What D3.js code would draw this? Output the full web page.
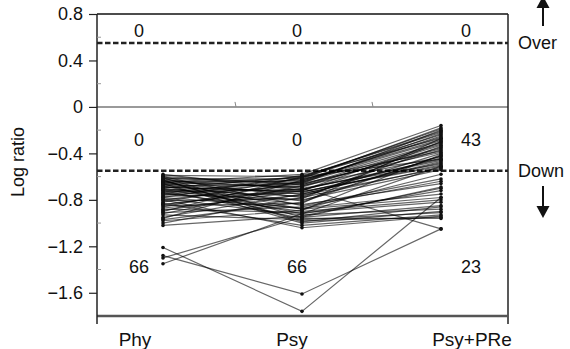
<!DOCTYPE html>
<html>
<head>
<meta charset="utf-8">
<script src="https://cdn.jsdelivr.net/npm/d3@7"></script>
<style>
  body { margin: 0; background: #fff; }
  text { font-family: "Liberation Sans", Arial, sans-serif; fill: #111; }
</style>
</head>
<body>
<div id="chart"></div>
<script>
// conditions on the x axis
const categories = ['Phy', 'Psy', 'Psy+PRe'];

// log ratio of each gene (66 genes) under the three conditions
const phy = [
  -0.58, -0.59, -0.60, -0.60, -0.61, -0.62, -0.62, -0.63, -0.63, -0.64,
  -0.64, -0.65, -0.65, -0.66, -0.66, -0.67, -0.67, -0.68, -0.68, -0.69,
  -0.70, -0.70, -0.71, -0.72, -0.72, -0.73, -0.74, -0.74, -0.75, -0.76,
  -0.77, -0.78, -0.78, -0.79, -0.80, -0.81, -0.82, -0.83, -0.84, -0.85,
  -0.86, -0.87, -0.88, -0.89, -0.90, -0.91, -0.92, -0.93, -0.95, -0.96,
  -0.97, -0.98, -1.00, -1.02, -0.61, -0.63, -0.66, -0.69, -0.71, -0.75,
  -0.80, -0.84, -1.21, -1.28, -1.30, -1.35
];
const psy = [
  -0.72, -0.60, -0.85, -0.66, -0.95, -0.62, -0.78, -0.70, -0.98, -0.64,
  -0.88, -0.69, -0.58, -0.75, -1.00, -0.81, -0.63, -0.92, -0.67, -0.73,
  -0.60, -0.84, -0.77, -0.65, -0.96, -0.71, -0.90, -0.62, -0.80, -0.68,
  -0.74, -0.59, -0.87, -0.93, -0.66, -0.79, -0.61, -1.02, -0.70, -0.83,
  -0.64, -0.76, -0.91, -0.72, -0.60, -0.86, -0.68, -0.97, -0.75, -0.63,
  -0.82, -0.89, -0.78, -0.94, -0.67, -0.99, -0.61, -0.73, -0.88, -0.65,
  -1.04, -0.71, -1.76, -1.61, -0.95, -0.92
];
const psyPRe = [
  -0.30, -0.45, -0.62, -0.20, -0.85, -0.38, -0.52, -1.05, -0.95, -0.25,
  -0.58, -0.33, -0.16, -0.48, -0.90, -0.42, -0.28, -0.72, -0.36, -0.50,
  -0.22, -0.66, -0.40, -0.31, -0.96, -0.46, -0.80, -0.18, -0.54, -0.35,
  -0.44, -0.27, -0.75, -0.88, -0.39, -0.30, -0.24, -0.93, -0.49, -0.27,
  -0.29, -0.53, -0.82, -0.37, -0.21, -0.64, -0.43, -0.91, -0.47, -0.26,
  -0.42, -0.41, -0.34, -0.70, -0.32, -0.86, -0.19, -0.51, -0.78, -0.23,
  -0.94, -0.45, -0.78, -1.05, -0.69, -0.51
];

// gene counts per region (over / between / down)
const overCounts = [0, 0, 0];
const midCounts = [0, 0, 43];
const downCounts = [66, 66, 23];

const yTicks = [0.8, 0.4, 0, -0.4, -0.8, -1.2, -1.6];
const yMinorTicks = [0.6, 0.2, -0.2, -0.6, -1.0, -1.4];
const threshold = 0.55;

const width = 570, height = 349;
const margin = { left: 97, right: 508, top: 14, bottom: 316 };

const svg = d3.select('#chart').append('svg')
  .attr('width', width)
  .attr('height', height);

const x = d3.scalePoint().domain(categories).range([163, 441]);
const y = d3.scaleLinear().domain([-1.8, 0.8]).range([margin.bottom, margin.top]);

const genes = phy.map((v, i) => [phy[i], psy[i], psyPRe[i]]);

// zero line
svg.append('line')
  .attr('x1', margin.left).attr('x2', margin.right)
  .attr('y1', y(0)).attr('y2', y(0))
  .attr('stroke', '#9a9a9a').attr('stroke-width', 2);
[235, 372].forEach(px => {
  svg.append('line')
    .attr('x1', px).attr('x2', px + 1)
    .attr('y1', y(0) - 5).attr('y2', y(0))
    .attr('stroke', '#888').attr('stroke-width', 1);
});

// threshold lines
[threshold, -threshold].forEach(t => {
  svg.append('line')
    .attr('x1', margin.left).attr('x2', margin.right)
    .attr('y1', y(t)).attr('y2', y(t))
    .attr('stroke', '#222')
    .attr('stroke-width', 2.5)
    .attr('stroke-dasharray', '5.5,2.5');
});

// gene profiles
const line = d3.line()
  .x((d, i) => x(categories[i]))
  .y(d => y(d));

svg.append('g')
  .selectAll('path')
  .data(genes)
  .join('path')
  .attr('d', line)
  .attr('fill', 'none')
  .attr('stroke', '#000')
  .attr('stroke-opacity', 0.6)
  .attr('stroke-width', 1.2);

svg.append('g')
  .selectAll('circle')
  .data(genes.flatMap(g => g.map((v, i) => ({ c: categories[i], v }))))
  .join('circle')
  .attr('cx', d => x(d.c))
  .attr('cy', d => y(d.v))
  .attr('r', 1.8)
  .attr('fill', '#111');

// frame
svg.append('line')
  .attr('x1', margin.left).attr('x2', margin.right)
  .attr('y1', margin.top).attr('y2', margin.top)
  .attr('stroke', '#111').attr('stroke-width', 1.5);
svg.append('line')
  .attr('x1', margin.right).attr('x2', margin.right)
  .attr('y1', margin.top).attr('y2', margin.bottom + 8)
  .attr('stroke', '#222').attr('stroke-width', 1.5);
svg.append('line')
  .attr('x1', margin.left).attr('x2', margin.right)
  .attr('y1', margin.bottom).attr('y2', margin.bottom)
  .attr('stroke', '#555').attr('stroke-width', 2.5);

// y axis
const yAxis = svg.append('g')
  .attr('transform', 'translate(' + margin.left + ',0)')
  .call(d3.axisLeft(y)
    .tickValues(yTicks)
    .tickSize(8)
    .tickPadding(6)
    .tickFormat(d => d === 0 ? '0' : d3.format('.1f')(d)));
yAxis.select('.domain').remove();
yAxis.selectAll('.tick line').attr('stroke', '#222').attr('stroke-width', 1.2);
yAxis.selectAll('.tick text')
  .attr('font-size', 18)
  .attr('font-family', '"Liberation Sans", Arial, sans-serif')
  .attr('fill', '#111');
svg.append('line')
  .attr('x1', margin.left).attr('x2', margin.left)
  .attr('y1', margin.top).attr('y2', margin.bottom + 8)
  .attr('stroke', '#222').attr('stroke-width', 1.5);
svg.append('g')
  .selectAll('line')
  .data(yMinorTicks)
  .join('line')
  .attr('x1', margin.left).attr('x2', margin.left + 4)
  .attr('y1', d => y(d)).attr('y2', d => y(d))
  .attr('stroke', '#999').attr('stroke-width', 1);

svg.append('text')
  .attr('transform', 'translate(24,162) rotate(-90)')
  .attr('text-anchor', 'middle')
  .attr('font-size', 18)
  .text('Log ratio');

// category labels
const catLabelX = [135, 292, 472];
svg.append('g')
  .selectAll('text')
  .data(categories)
  .join('text')
  .attr('x', (d, i) => catLabelX[i])
  .attr('y', 346)
  .attr('text-anchor', 'middle')
  .attr('font-size', 19)
  .text(d => d);

// region counts
const countX = [139, 297, 461];
const countAnchor = ['middle', 'middle', 'start'];
const rows = [
  { counts: overCounts, v: 0.66 },
  { counts: midCounts, v: -0.28 },
  { counts: downCounts, v: -1.375 }
];
rows.forEach(r => {
  svg.append('g')
    .selectAll('text')
    .data(r.counts)
    .join('text')
    .attr('x', (d, i) => countX[i])
    .attr('y', y(r.v))
    .attr('dy', '0.35em')
    .attr('text-anchor', (d, i) => countAnchor[i])
    .attr('font-size', 18)
    .text(d => d);
});

// Over / Down annotations
svg.append('text')
  .attr('x', 518).attr('y', y(threshold)).attr('dy', '0.35em')
  .attr('font-size', 18).text('Over');
svg.append('text')
  .attr('x', 518).attr('y', y(-threshold)).attr('dy', '0.35em')
  .attr('font-size', 18).text('Down');

svg.append('line')
  .attr('x1', 543).attr('x2', 543).attr('y1', 26).attr('y2', 6)
  .attr('stroke', '#111').attr('stroke-width', 2);
svg.append('path')
  .attr('d', 'M536.5,8 L549.5,8 L543,-4 Z')
  .attr('fill', '#111');
svg.append('line')
  .attr('x1', 543).attr('x2', 543).attr('y1', 186).attr('y2', 207)
  .attr('stroke', '#111').attr('stroke-width', 2);
svg.append('path')
  .attr('d', 'M536.5,206 L549.5,206 L543,218 Z')
  .attr('fill', '#111');
</script>
</body>
</html>
